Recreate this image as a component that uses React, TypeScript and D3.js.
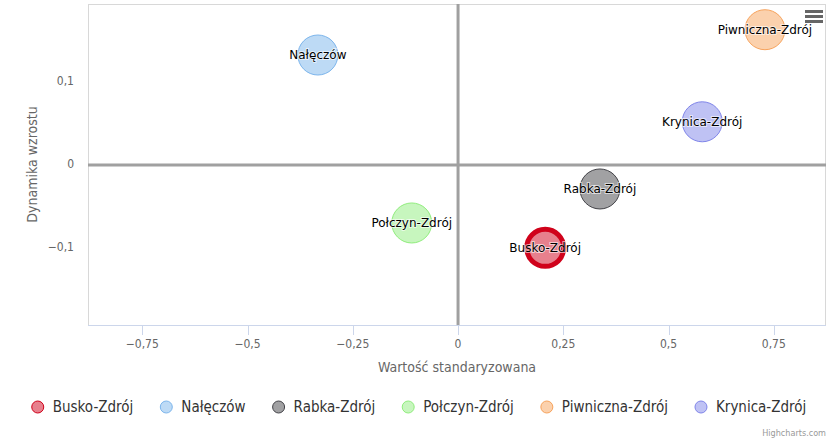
import React, { useEffect, useRef } from 'react'
import * as d3 from 'd3'

const towns = ['Busko-Zdrój', 'Nałęczów', 'Rabka-Zdrój', 'Połczyn-Zdrój', 'Piwniczna-Zdrój', 'Krynica-Zdrój']
const standardValue = [0.207, -0.333, 0.337, -0.11, 0.729, 0.58]
const growth = [-0.1, 0.1325, -0.029, -0.07, 0.163, 0.052]
const bubbleSize = [1, 1, 1, 1, 1, 1]
const xTicks = [-0.75, -0.5, -0.25, 0, 0.25, 0.5, 0.75]
const yTicks = [-0.1, 0, 0.1]

const strokeColors = ['#d0021b', '#7cb5ec', '#434348', '#90ed7d', '#f7a35c', '#8085e9']

const W = 838
const H = 440
const plot = { left: 88, top: 4, right: 826, bottom: 325 }
const axisFont = '"DejaVu Sans Condensed", "DejaVu Sans", sans-serif'

const fmt = (v: number) => (v === 0 ? '0' : String(v).replace('.', ',').replace('-', '−'))

function App() {
  const ref = useRef<SVGSVGElement>(null)

  useEffect(() => {
    const svg = d3.select(ref.current)
    svg.selectAll('*').remove()

    const x = d3.scaleLinear().domain([-0.879, 0.874]).range([plot.left, plot.right])
    const y = d3.scaleLinear().domain([-0.193, 0.194]).range([plot.bottom, plot.top])
    const r = d3.scaleSqrt().domain([0, d3.max(bubbleSize) as number]).range([0, 20])

    // plot frame
    svg
      .append('rect')
      .attr('x', plot.left + 0.5)
      .attr('y', plot.top + 0.5)
      .attr('width', plot.right - plot.left - 1)
      .attr('height', plot.bottom - plot.top)
      .attr('fill', 'none')
      .attr('stroke', '#d8d8d8')
      .attr('stroke-width', 1)

    // x axis
    const xa = svg.append('g').attr('transform', `translate(0,${plot.bottom})`)
    xa.append('line')
      .attr('x1', plot.left)
      .attr('x2', plot.right)
      .attr('y1', 0.5)
      .attr('y2', 0.5)
      .attr('stroke', '#ccd6eb')
    const xt = xa.selectAll('.xt').data(xTicks).enter().append('g').attr('class', 'xt')
    xt.append('line')
      .attr('x1', (d) => Math.round(x(d)) + 0.5)
      .attr('x2', (d) => Math.round(x(d)) + 0.5)
      .attr('y1', 0)
      .attr('y2', 10)
      .attr('stroke', '#ccd6eb')
    xt.append('text')
      .attr('x', (d) => x(d))
      .attr('y', 23)
      .attr('text-anchor', 'middle')
      .attr('font-family', axisFont)
      .attr('font-size', 12)
      .attr('fill', '#666')
      .text((d) => fmt(d))

    svg
      .append('text')
      .attr('x', (plot.left + plot.right) / 2)
      .attr('y', 372)
      .attr('text-anchor', 'middle')
      .attr('font-family', axisFont)
      .attr('font-size', 14)
      .attr('fill', '#666')
      .text('Wartość standaryzowana')

    // y axis labels
    svg
      .selectAll('.yt')
      .data(yTicks)
      .enter()
      .append('text')
      .attr('class', 'yt')
      .attr('x', 74)
      .attr('y', (d) => y(d) + 3)
      .attr('text-anchor', 'end')
      .attr('font-family', axisFont)
      .attr('font-size', 12)
      .attr('fill', '#666')
      .text((d) => fmt(d))

    svg
      .append('text')
      .attr('transform', `translate(37,${(plot.top + plot.bottom) / 2}) rotate(-90)`)
      .attr('text-anchor', 'middle')
      .attr('font-family', axisFont)
      .attr('font-size', 14)
      .attr('fill', '#666')
      .text('Dynamika wzrostu')

    // zero plot lines
    svg
      .append('line')
      .attr('x1', x(0))
      .attr('x2', x(0))
      .attr('y1', plot.top)
      .attr('y2', plot.bottom)
      .attr('stroke', '#a0a0a0')
      .attr('stroke-width', 3)
    svg
      .append('line')
      .attr('x1', plot.left)
      .attr('x2', plot.right)
      .attr('y1', y(0))
      .attr('y2', y(0))
      .attr('stroke', '#a0a0a0')
      .attr('stroke-width', 3)

    // bubbles
    const idx = d3.range(towns.length)
    const b = svg.selectAll('.bubble').data(idx).enter().append('g').attr('class', 'bubble')
    b.append('circle')
      .attr('cx', (i) => x(standardValue[i]))
      .attr('cy', (i) => y(growth[i]))
      .attr('r', (i) => r(bubbleSize[i]) - (i === 0 ? 1.5 : 0))
      .attr('fill', (i) => strokeColors[i])
      .attr('fill-opacity', 0.5)
      .attr('stroke', (i) => strokeColors[i])
      .attr('stroke-width', (i) => (i === 0 ? 5 : 1))

    b.append('text')
      .attr('x', (i) => x(standardValue[i]))
      .attr('y', (i) => y(growth[i]) + 4)
      .attr('text-anchor', 'middle')
      .attr('font-family', '"DejaVu Sans", sans-serif')
      .attr('font-size', 12)
      .attr('fill', '#000')
      .attr('stroke', '#fff')
      .attr('stroke-width', 2)
      .attr('stroke-opacity', 0.6)
      .attr('paint-order', 'stroke')
      .text((i) => towns[i])

    // legend
    const lg = svg.append('g')
    const items = lg.selectAll('.li').data(idx).enter().append('g').attr('class', 'li')
    items
      .append('text')
      .attr('font-family', axisFont)
      .attr('font-size', 15)
      .attr('fill', '#333')
      .attr('y', 412)
      .text((i) => towns[i])
    items
      .append('circle')
      .attr('cy', 407)
      .attr('r', 6)
      .attr('fill', (i) => strokeColors[i])
      .attr('fill-opacity', 0.5)
      .attr('stroke', (i) => strokeColors[i])
      .attr('stroke-width', 1)

    const widths: number[] = []
    items.select('text').each(function () {
      widths.push((this as SVGTextElement).getComputedTextLength())
    })
    const gap = 33
    const total = d3.sum(widths) + widths.length * 15 + (widths.length - 1) * gap + 6
    let cx = W / 2 - total / 2 + 6
    items.each(function (_, k) {
      const g = d3.select(this)
      g.select('circle').attr('cx', cx)
      g.select('text').attr('x', cx + 15)
      cx += 15 + widths[k] + gap
    })

    // menu icon
    svg
      .selectAll('.menu')
      .data([0, 5, 10])
      .enter()
      .append('rect')
      .attr('x', 805)
      .attr('y', (d) => 10 + d)
      .attr('width', 18)
      .attr('height', 3)
      .attr('fill', '#666')

    svg
      .append('text')
      .attr('x', 826)
      .attr('y', 436)
      .attr('text-anchor', 'end')
      .attr('font-family', axisFont)
      .attr('font-size', 9)
      .attr('fill', '#999')
      .text('Highcharts.com')
  }, [])

  return (
    <div style={{ position: 'absolute', left: 0, top: 0 }}>
      <svg ref={ref} width={W} height={H} style={{ display: 'block', background: '#fff' }} />
    </div>
  )
}

export default App
